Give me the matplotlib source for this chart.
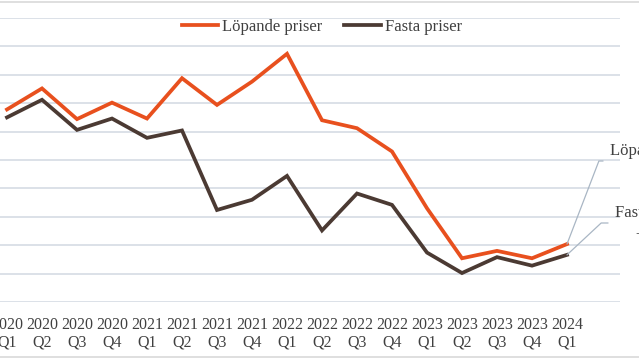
import matplotlib.pyplot as plt
from matplotlib.lines import Line2D

# Quarterly series
quarters = ['2020\nQ1', '2020\nQ2', '2020\nQ3', '2020\nQ4',
            '2021\nQ1', '2021\nQ2', '2021\nQ3', '2021\nQ4',
            '2022\nQ1', '2022\nQ2', '2022\nQ3', '2022\nQ4',
            '2023\nQ1', '2023\nQ2', '2023\nQ3', '2023\nQ4',
            '2024\nQ1']
lopande = [8.9, 12.6, 7.2, 10.1, 7.3, 14.4, 9.7, 13.8, 18.7,
           7.0, 5.6, 1.5, -8.5, -17.3, -16.0, -17.3, -14.8]
fasta = [7.5, 10.6, 5.3, 7.3, 3.9, 5.2, -8.8, -7.0, -2.8,
         -12.4, -5.9, -7.9, -16.3, -19.9, -17.1, -18.6, -16.7]
yticks = [-25, -20, -15, -10, -5, 0, 5, 10, 15, 20, 25]

orange = '#E8501E'
brown = '#4B3A33'
grid_col = '#D9DEE6'
text_col = '#404040'

plt.rcParams['font.family'] = ['Liberation Serif', 'DejaVu Serif']

fig = plt.figure(figsize=(6.39, 3.59), dpi=100)
W, H = 639, 359
ax = fig.add_axes([-10.5 / W, (H - 302) / H, 630 / W, 284 / H])

x = list(range(len(quarters)))
ax.plot(x, lopande, color=orange, lw=2.7, label='Löpande priser', solid_joinstyle='miter')
ax.plot(x, fasta, color=brown, lw=2.7, label='Fasta priser', solid_joinstyle='miter')

ax.set_xlim(-0.5, 17.5)
ax.set_ylim(yticks[0], yticks[-1])
ax.set_yticks(yticks)
ax.set_yticklabels([])
ax.grid(axis='y', color=grid_col, lw=1.3)
ax.set_axisbelow(True)
ax.set_xticks(x)
ax.set_xticklabels(quarters, fontsize=11.5, color=text_col, linespacing=1.15)
ax.tick_params(length=0, pad=10.5)
for s in ax.spines.values():
    s.set_visible(False)

# Chart area border (top and bottom edges are visible)
fig.add_artist(Line2D([0, 1], [1 - 1.5 / H, 1 - 1.5 / H], color='#D9D9D9', lw=1.2))
fig.add_artist(Line2D([0, 1], [2 / H, 2 / H], color='#D9D9D9', lw=1.2))

fig.legend(loc='center', bbox_to_anchor=(322 / W, 1 - 27 / H), ncol=2, frameon=False,
           fontsize=12, handlelength=2.2, handletextpad=0.25, columnspacing=1.3,
           labelcolor=text_col)

# Data labels for the last point
ax.annotate('Löpande priser\n-15%', xy=(16, lopande[-1]), xytext=(610, H - 161),
            textcoords='figure pixels', ha='left', va='center', multialignment='center',
            fontsize=12, color=text_col, linespacing=1.3,
            arrowprops=dict(arrowstyle='-', color='#A9B6C4', lw=0.9, relpos=(0, 0.5),
                            shrinkA=3, shrinkB=0,
                            connectionstyle='angle,angleA=0,angleB=69,rad=0'))
ax.annotate('Fasta priser\n-17%', xy=(16, fasta[-1]), xytext=(615, H - 223),
            textcoords='figure pixels', ha='left', va='center', multialignment='center',
            fontsize=12, color=text_col, linespacing=1.3,
            arrowprops=dict(arrowstyle='-', color='#A9B6C4', lw=0.9, relpos=(0, 0.5),
                            shrinkA=3, shrinkB=0,
                            connectionstyle='angle,angleA=0,angleB=43,rad=0'))

fig.savefig('out.png', dpi=100)
